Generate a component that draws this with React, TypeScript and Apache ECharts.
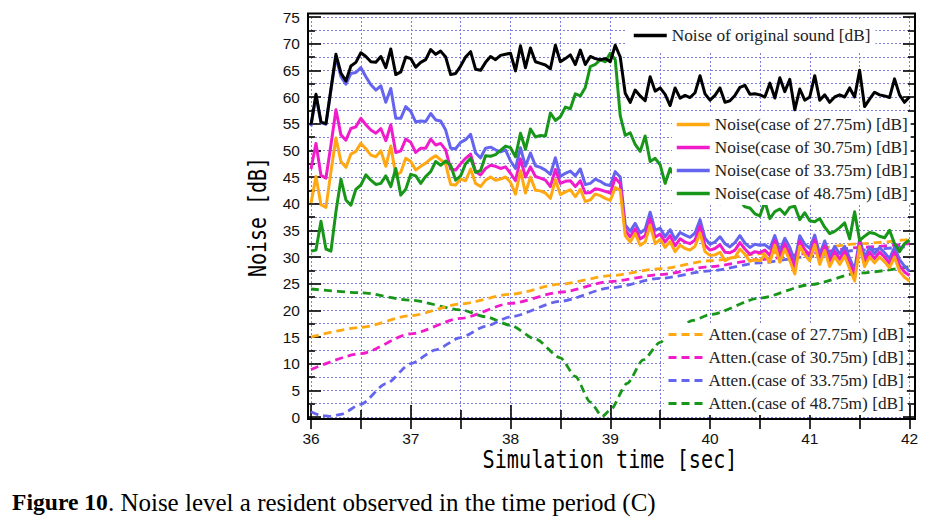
import React, { useEffect, useRef } from "react";
import * as echarts from "echarts";

// ---- data -------------------------------------------------------------
const START_TIME = 36;
const STEP = 0.05;

const xTickValues = [36, 37, 38, 39, 40, 41, 42];
const yTickValues = [0, 5, 10, 15, 20, 25, 30, 35, 40, 45, 50, 55, 60, 65, 70, 75];

const noiseOriginal = [
  54.8, 60.5, 55.3, 55, 61.5, 68, 64.5, 63, 65.8, 66.5, 68.3, 67.6, 66.6, 66.5, 67.6, 65.5, 69, 64.2, 64.7, 67.5, 67.2, 65.6, 66.5, 67, 68.9, 68, 68.6, 67.5, 64.2, 64.4, 65.8,
  67.5, 68.5, 65.2, 65, 66.5, 67.6, 67, 67.8, 68, 68.2, 64.9, 69.6, 65.5, 69.2, 66.6, 66.3, 66, 65.3, 69.7, 66.6, 67.2, 67.9, 66.1, 68.8, 66.1, 67.6, 67.2, 67, 67.2, 66.6, 69.7,
  67.5, 60.7, 59, 61.3, 60.2, 59.3, 63.8, 61.1, 61.7, 60.5, 58.4, 61.7, 59.8, 60.3, 59.9, 60.8, 64, 60.6, 59.4, 60.3, 61.7, 59, 59.3, 60.3, 61.8, 62.2, 60.5, 60.6, 60.4,
  60, 62.6, 59.8, 63.6, 61, 63.3, 57.6, 61.5, 59.4, 60, 64, 59.4, 60.4, 59, 60, 60.4, 60, 61.7, 60, 65, 58.2, 59.6, 60.9, 60.4, 60.2, 59.9, 63.4, 60.4, 59, 60,
];

const noise2775 = [
  40.1, 45.1, 39.8, 39.3, 46, 52.3, 47.9, 46.8, 49.3, 49.8, 51.3, 50.3, 49.1, 48.8, 49.9, 47, 50.8, 45.3, 45.9, 48.5, 47.9, 46.3, 47, 47.6, 48.4, 49, 48.2, 47.4, 43.6, 43.5, 44.6,
  44.3, 46.5, 43.8, 43.2, 44.4, 45, 44.4, 44.6, 45, 44, 41.8, 46.2, 42, 45, 42.5, 42.4, 42, 41, 44.5, 41.7, 42.2, 42.6, 41.3, 42.7, 40.4, 40.7, 41.8, 41.5, 41, 40.6, 43,
  42.5, 34, 32.8, 34.4, 32.2, 32.8, 36, 32.5, 33.3, 31.8, 32.9, 31, 32.2, 31.6, 31.3, 32, 34.5, 31, 30.3, 30.4, 30.9, 29.3, 29.8, 29.9, 31.5, 30.5, 29.2, 29.5, 29.3,
  30.4, 29, 32.2, 29, 31.5, 29.3, 26.8, 32, 30.4, 29.3, 32.3, 28.6, 31.2, 28.2, 30.1, 28.6, 30.2, 27.8, 25.5, 32, 28.2, 30, 28.9, 30, 29.1, 28, 30, 27.3, 26.2, 25.5,
];

const noise3075 = [
  46.5, 51.3, 45.3, 44.8, 51, 57.6, 52.9, 51.9, 54.1, 54.4, 56, 54.8, 53.8, 53.2, 54.1, 51.8, 54.8, 49.6, 49.9, 52.1, 51.5, 49.6, 50.4, 50.4, 52.1, 51, 51.3, 50.1, 46.5, 46.3, 47.5,
  48.5, 49.3, 46, 45.4, 46.6, 47.2, 47, 46.6, 46.9, 45.7, 44.3, 48.4, 45, 46.9, 45.1, 44.8, 44.4, 43.2, 46.4, 43.8, 44.2, 44.3, 43.2, 44.3, 42, 42.1, 42.8, 42.6, 42.3, 42, 44.8,
  43.8, 35, 33.8, 35.3, 33.4, 34, 37.2, 33.7, 34.3, 32.8, 34, 32.1, 33.4, 32.8, 32.5, 33.2, 35.8, 32.2, 31.3, 31.6, 32.3, 30.9, 30.8, 31.3, 32.7, 31.5, 30.5, 31, 30.8,
  31.3, 30.3, 33.1, 30.1, 32.5, 30.5, 28, 33, 31.4, 30.4, 33.2, 29.5, 32.1, 29.1, 31, 29.6, 31.1, 28.8, 26.5, 32.7, 29.1, 30.9, 29.7, 30.9, 30, 28.8, 30.9, 28.4, 27.2, 26.5,
];

const noise3375 = [
  54.5, 60.3, 55.2, 54.9, 61.3, 67.5, 63.8, 62.4, 64.4, 64.6, 65.5, 63.8, 62.3, 61.3, 62.1, 59, 61.6, 56, 56, 58.2, 57.3, 55.3, 55.5, 55.4, 56.9, 55.7, 55.5, 53.8, 50.4, 50.3, 51.5,
  52, 53, 49.5, 48.6, 50.4, 50.6, 50.1, 49.7, 50.1, 48, 46.6, 50.5, 47, 49.5, 47.1, 46.8, 46.3, 45.5, 48.6, 45.1, 45.7, 46.1, 45.2, 46.5, 43.6, 43.8, 44.6, 44.2, 43.6, 43.4, 46,
  45, 36, 34.8, 36.3, 34.5, 35.2, 38.4, 35, 35.4, 33.8, 35.1, 33.3, 34.6, 34.1, 33.7, 34.5, 37, 33.5, 32.4, 32.8, 33.8, 32.5, 31.9, 32.7, 34, 32.6, 31.8, 32.4, 32.2,
  32.3, 31.6, 34, 31.2, 33.5, 31.8, 29.2, 34, 32.4, 31.6, 34.1, 30.5, 33, 30, 32, 30.6, 32, 29.8, 27.6, 33.4, 30, 31.8, 30.6, 31.8, 30.8, 29.7, 31.8, 29.5, 28.3, 27.3,
];

const noise4875 = [
  31.1, 31.3, 36.7, 31.5, 31.1, 38.5, 44.6, 40.7, 39.7, 42.7, 43.5, 45.4, 44.4, 43.6, 43.8, 45.2, 43.2, 46.6, 41.6, 42.7, 45.5, 45.2, 43.8, 45.1, 46, 47.9, 47.2, 48, 47.2, 44.4, 45.2,
  47.5, 48.5, 45.9, 46.2, 49, 48.9, 49.2, 50, 50.8, 50.5, 48.8, 53.2, 50.2, 54, 52.5, 52.8, 52.7, 57, 55.6, 56.3, 58.1, 57.8, 60.6, 60.2, 61.8, 65.7, 66.1, 67, 66.6, 68.2, 67,
  56.5, 52.8, 53.3, 51.1, 49.8, 52.7, 47.9, 48.5, 47.3, 43.8, 46.6, 45, 44, 44.5, 43, 43.5, 42.5, 41.2, 41.9, 41.2, 40, 40.6, 41, 41.3, 40.6, 39.4, 39.2, 38.1, 37.7,
  40.4, 37.2, 38.5, 39, 38, 39.3, 39.5, 37, 38.3, 36.8, 36.6, 37.2, 35.6, 34.4, 34.8, 35.5, 36.4, 33.4, 38.5, 33.1, 33.9, 34.6, 34.4, 33.9, 33.6, 35, 32.5, 31, 32.5, 33.2,
];

const atten2775: [number, number][] = [
  [36, 15.0], [36.5, 16.8], [37, 19.0], [37.5, 21.2], [38, 23.0], [38.5, 24.9], [39, 26.5],
  [39.5, 27.8], [40, 29.3], [40.5, 30.6], [41, 31.5], [41.5, 32.5], [42, 33.3],
];
const atten3075: [number, number][] = [
  [36, 8.9], [36.5, 11.9], [37, 15.6], [37.5, 18.5], [38, 21.3], [38.5, 23.4], [39, 25.4],
  [39.5, 26.7], [40, 28.2], [40.5, 29.5], [41, 30.7], [41.5, 31.8], [42, 32.5],
];
const atten3375: [number, number][] = [
  [36, 1.0], [36.1, 0.3], [36.2, 0.1], [36.3, 0.5], [36.5, 2.4], [36.75, 6.2], [37, 10], [37.25, 12.6],
  [37.5, 14.9], [37.75, 17], [38, 18.8], [38.5, 21.7], [39, 24.2], [39.5, 26], [40, 27.4],
  [40.5, 28.9], [41, 30.1], [41.5, 31.3], [42, 32],
];
const atten4875: [number, number][] = [
  [36, 24], [36.5, 23.3], [37, 21.9], [37.5, 20.1], [37.75, 18.8], [38, 17.2], [38.25, 14.6],
  [38.5, 11.1], [38.65, 7.6], [38.8, 2.8], [38.92, 0.1], [39, 1.3], [39.17, 6.3], [39.33, 10.7],
  [39.5, 14], [39.6, 15.6], [39.83, 18.1], [40, 19.2], [40.5, 22.3], [41, 24.8], [41.5, 27], [42, 28.2],
];

const seriesNames = {
  original: "Noise of original sound [dB]",
  n2775: "Noise(case of 27.75m) [dB]",
  n3075: "Noise(case of 30.75m) [dB]",
  n3375: "Noise(case of 33.75m) [dB]",
  n4875: "Noise(case of 48.75m) [dB]",
  a2775: "Atten.(case of 27.75m) [dB]",
  a3075: "Atten.(case of 30.75m) [dB]",
  a3375: "Atten.(case of 33.75m) [dB]",
  a4875: "Atten.(case of 48.75m) [dB]",
};

// ---- styling ----------------------------------------------------------
const C_ORANGE = "#ffa812";
const C_MAGENTA = "#f01ccc";
const C_BLUE = "#6464ee";
const C_GREEN = "#18961a";
const C_BLACK = "#000000";
const GRID_LINE = { color: "#8080dc", width: 1, type: [2, 2] as number[] };
const SERIF = '"Liberation Serif", "Times New Roman", serif';
const SANS = '"Liberation Sans", Arial, sans-serif';
const MONO = '"DejaVu Sans Mono", "Liberation Mono", monospace';

function toPairs(values: number[]): [number, number][] {
  return values.map((v, i) => [Number((START_TIME + i * STEP).toFixed(2)), v]);
}

function noiseSeries(name: string, values: number[], color: string) {
  return {
    type: "line",
    name,
    data: toPairs(values),
    symbol: "none",
    showSymbol: false,
    lineStyle: { color, width: 3, join: "round" },
    itemStyle: { color },
    z: 3,
  };
}

function attenSeries(name: string, pairs: [number, number][], color: string) {
  return {
    type: "line",
    name,
    data: pairs,
    symbol: "none",
    showSymbol: false,
    smooth: 0.25,
    smoothMonotone: "x",
    lineStyle: { color, width: 2.8, type: [8, 5] },
    itemStyle: { color },
    z: 2,
  };
}

const legendText = { fontFamily: SERIF, fontSize: 17.3, color: "#222", lineHeight: 14 };
const hiddenSymbol = { opacity: 0, borderWidth: 0, color: "rgba(0,0,0,0)", borderColor: "rgba(0,0,0,0)" };

export default function App() {
  const ref = useRef<HTMLDivElement | null>(null);

  useEffect(() => {
    if (!ref.current) return;
    const chart = echarts.init(ref.current, null, { renderer: "svg" });

    const legendBase = {
      orient: "vertical",
      itemHeight: 14,
      itemGap: 6,
      selectedMode: false,
      backgroundColor: "#ffffff",
      textStyle: legendText,
      itemStyle: hiddenSymbol,
    };

    const option: any = {
      animation: false,
      backgroundColor: "#ffffff",
      grid: { left: 311, right: 27.5, top: 17, bottom: 102, containLabel: false },
      xAxis: [
        {
          type: "value",
          min: xTickValues[0],
          max: xTickValues[xTickValues.length - 1],
          interval: 1,
          offset: 2.5,
          axisLine: { show: false },
          axisTick: { show: true, inside: true, length: 12, lineStyle: { color: "#000", width: 1.6 } },
          minorTick: { show: true, splitNumber: 2, length: 7, lineStyle: { color: "#000", width: 1.6 } },
          axisLabel: {
            show: true,
            margin: 11,
            fontFamily: SANS,
            fontSize: 15.5,
            color: "#111",
            formatter: (v: number) => String(v),
          },
          splitLine: { show: true, lineStyle: GRID_LINE },
          minorSplitLine: { show: true, lineStyle: GRID_LINE },
        },
        {
          type: "value",
          position: "top",
          min: xTickValues[0],
          max: xTickValues[xTickValues.length - 1],
          interval: 1,
          offset: 3.5,
          axisLine: { show: false },
          axisTick: { show: true, inside: true, length: 12, lineStyle: { color: "#000", width: 1.6 } },
          minorTick: { show: true, splitNumber: 2, length: 12, lineStyle: { color: "#000", width: 1.6 } },
          axisLabel: { show: false },
          splitLine: { show: false },
        },
      ],
      yAxis: [
        {
          type: "value",
          min: yTickValues[0],
          max: yTickValues[yTickValues.length - 1],
          interval: 5,
          offset: 3,
          axisLine: { show: false },
          axisTick: { show: true, inside: true, length: 13, lineStyle: { color: "#000", width: 1.6 } },
          minorTick: { show: true, splitNumber: 2, length: 7, lineStyle: { color: "#000", width: 1.6 } },
          axisLabel: {
            show: true,
            margin: 8,
            fontFamily: SANS,
            fontSize: 15.5,
            color: "#111",
          },
          splitLine: { show: true, lineStyle: GRID_LINE },
          minorSplitLine: { show: true, lineStyle: GRID_LINE },
        },
        {
          type: "value",
          position: "right",
          min: yTickValues[0],
          max: yTickValues[yTickValues.length - 1],
          interval: 5,
          offset: 5.5,
          axisLine: { show: false },
          axisTick: { show: true, inside: true, length: 12, lineStyle: { color: "#000", width: 1.6 } },
          minorTick: { show: true, splitNumber: 2, length: 7, lineStyle: { color: "#000", width: 1.6 } },
          axisLabel: { show: false },
          splitLine: { show: false },
        },
      ],
      legend: [
        {
          ...legendBase,
          left: 627,
          top: 20,
          padding: [7, 5, 7, 5],
          itemWidth: 33,
          data: [{ name: seriesNames.original, lineStyle: { width: 3.5 }, itemStyle: hiddenSymbol }],
        },
        {
          ...legendBase,
          left: 672,
          top: 113,
          padding: [3, 3, 3, 3],
          itemWidth: 33,
          data: [
            { name: seriesNames.n2775, lineStyle: { width: 3.5 }, itemStyle: hiddenSymbol },
            { name: seriesNames.n3075, lineStyle: { width: 3.5 }, itemStyle: hiddenSymbol },
            { name: seriesNames.n3375, lineStyle: { width: 3.5 }, itemStyle: hiddenSymbol },
            { name: seriesNames.n4875, lineStyle: { width: 3.5 }, itemStyle: hiddenSymbol },
          ],
        },
        {
          ...legendBase,
          left: 664,
          top: 323,
          padding: [3, 3, 3, 3],
          itemWidth: 35,
          data: [
            { name: seriesNames.a2775, lineStyle: { width: 3 }, itemStyle: hiddenSymbol },
            { name: seriesNames.a3075, lineStyle: { width: 3 }, itemStyle: hiddenSymbol },
            { name: seriesNames.a3375, lineStyle: { width: 3 }, itemStyle: hiddenSymbol },
            { name: seriesNames.a4875, lineStyle: { width: 3 }, itemStyle: hiddenSymbol },
          ],
        },
      ],
      series: [
        attenSeries(seriesNames.a4875, atten4875, C_GREEN),
        attenSeries(seriesNames.a3375, atten3375, C_BLUE),
        attenSeries(seriesNames.a3075, atten3075, C_MAGENTA),
        attenSeries(seriesNames.a2775, atten2775, C_ORANGE),
        noiseSeries(seriesNames.n3375, noise3375, C_BLUE),
        noiseSeries(seriesNames.n3075, noise3075, C_MAGENTA),
        noiseSeries(seriesNames.n2775, noise2775, C_ORANGE),
        noiseSeries(seriesNames.n4875, noise4875, C_GREEN),
        noiseSeries(seriesNames.original, noiseOriginal, C_BLACK),
      ],
      graphic: [
        {
          type: "rect",
          z: 10,
          silent: true,
          shape: { x: 308, y: 13.5, width: 607, height: 405.5 },
          style: { fill: "none", stroke: "#000", lineWidth: 2 },
        },
        {
          type: "text",
          z: 10,
          x: 258,
          y: 217,
          rotation: Math.PI / 2,
          scaleX: 0.83,
          style: {
            text: "Noise [dB]",
            fontFamily: MONO,
            fontSize: 24,
            fill: "#000",
            align: "center",
            verticalAlign: "middle",
            textAlign: "center",
            textVerticalAlign: "middle",
          },
        },
        {
          type: "text",
          z: 10,
          x: 610,
          y: 459,
          scaleX: 0.84,
          style: {
            text: "Simulation time [sec]",
            fontFamily: MONO,
            fontSize: 24,
            fill: "#000",
            align: "center",
            verticalAlign: "middle",
            textAlign: "center",
            textVerticalAlign: "middle",
          },
        },
        {
          type: "text",
          z: 10,
          x: 12,
          y: 502,
          style: {
            text: "{b|Figure 10}. Noise level a resident observed in the time period (C)",
            fontFamily: SERIF,
            fontSize: 25,
            fill: "#000",
            align: "left",
            verticalAlign: "middle",
            textAlign: "left",
            textVerticalAlign: "middle",
            rich: {
              b: { fontFamily: SERIF, fontSize: 23.6, fontWeight: "bold", fill: "#000", color: "#000" },
            },
          },
        },
      ],
    };

    chart.setOption(option);
    return () => {
      chart.dispose();
    };
  }, []);

  return (
    <div
      ref={ref}
      style={{ position: "fixed", left: 0, top: 0, width: 937, height: 519, background: "#fff" }}
    />
  );
}
